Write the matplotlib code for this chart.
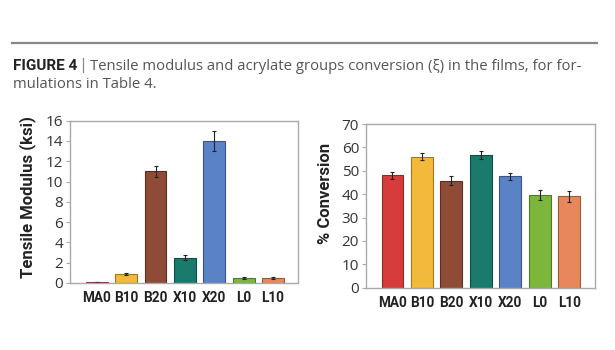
import matplotlib
matplotlib.use("Agg")
import matplotlib.pyplot as plt
import numpy as np

categories = ["MA0", "B10", "B20", "X10", "X20", "L0", "L10"]
modulus = [0.08, 0.9, 11.0, 2.5, 14.0, 0.5, 0.5]
modulus_err = [0.05, 0.12, 0.55, 0.25, 1.0, 0.1, 0.08]
conversion = [48.0, 56.0, 45.8, 56.7, 47.7, 39.7, 39.0]
conversion_err = [1.5, 1.6, 1.8, 1.6, 1.5, 2.0, 2.5]
colors = ["#d63c3c", "#f3b93a", "#8e4b36", "#1a7a6b", "#5a83c7", "#7cb73c", "#e8875c"]
edge_colors = ["#8a2a2a", "#a07a20", "#5a2e20", "#0f4d43", "#3a5585", "#507a25", "#9a5a3a"]

plt.rcParams['font.family'] = ['Open Sans', 'DejaVu Sans']
narrow = ["Roboto", "DejaVu Sans"]

fig = plt.figure(figsize=(6.15, 3.5), dpi=100)
fig.patch.set_facecolor("white")

# rule and caption
fig.add_artist(plt.Line2D([12/615, 597/615], [1-43/350, 1-43/350], color="#888888", lw=1.6))
fig.text(13/615, 1-69.5/350, "FIGURE 4", fontsize=11, fontweight="bold", color="#222222",
         va="baseline", ha="left", family=narrow)
fig.add_artist(plt.Line2D([83/615, 83/615], [1-58/350, 1-72/350], color="#888888", lw=0.9))
fig.text(90/615, 1-69.5/350, "Tensile modulus and acrylate groups conversion (\u03be) in the films, for for-",
         fontsize=10.7, color="#555555", va="baseline", ha="left", family=["Open Sans", "DejaVu Sans"])
fig.text(13/615, 1-88/350, "mulations in Table 4.", fontsize=10.7, color="#555555",
         va="baseline", ha="left", family=["Open Sans", "DejaVu Sans"])

x = np.arange(len(categories))
spine_c = "#aaaaaa"

def style(ax):
    for s in ax.spines.values():
        s.set_color(spine_c)
        s.set_linewidth(1.0)
    ax.tick_params(axis="y", length=3, color=spine_c, labelsize=11, labelcolor="#333333", pad=2)
    ax.tick_params(axis="x", length=0, pad=6)
    ax.set_xticks(x)
    ax.set_xticklabels(categories, fontsize=9.8, fontweight="bold", color="#222222", family=narrow)

ax1 = fig.add_axes([70/615, 1-283/350, 228/615, (283-120.7)/350])
ax1.bar(x, modulus, width=0.74, color=colors, edgecolor=edge_colors, linewidth=0.8,
        yerr=modulus_err, error_kw=dict(ecolor="#222222", elinewidth=0.8, capsize=1.5, capthick=0.8))
ax1.set_xlim(-0.91, 6.85)
ax1.set_ylim(0, 16)
ax1.set_yticks(np.arange(0, 17, 2))
style(ax1)
ax1.set_ylabel("Tensile Modulus (ksi)", fontsize=12, fontweight="bold", color="#222222",
               family=narrow)
ax1.yaxis.set_label_coords(-0.15, 0.53)

ax2 = fig.add_axes([366/615, 1-287.7/350, 229/615, (287.7-124)/350])
ax2.bar(x, conversion, width=0.74, color=colors, edgecolor=edge_colors, linewidth=0.8,
        yerr=conversion_err, error_kw=dict(ecolor="#222222", elinewidth=0.8, capsize=1.5, capthick=0.8))
ax2.set_xlim(-0.9, 6.88)
ax2.set_ylim(0, 70)
ax2.set_yticks(np.arange(0, 71, 10))
style(ax2)
ax2.set_ylabel("% Conversion", fontsize=12, fontweight="bold", color="#222222",
               family=narrow)
ax2.yaxis.set_label_coords(-0.145, 0.573)

fig.savefig("out.png", dpi=100, facecolor="white")
